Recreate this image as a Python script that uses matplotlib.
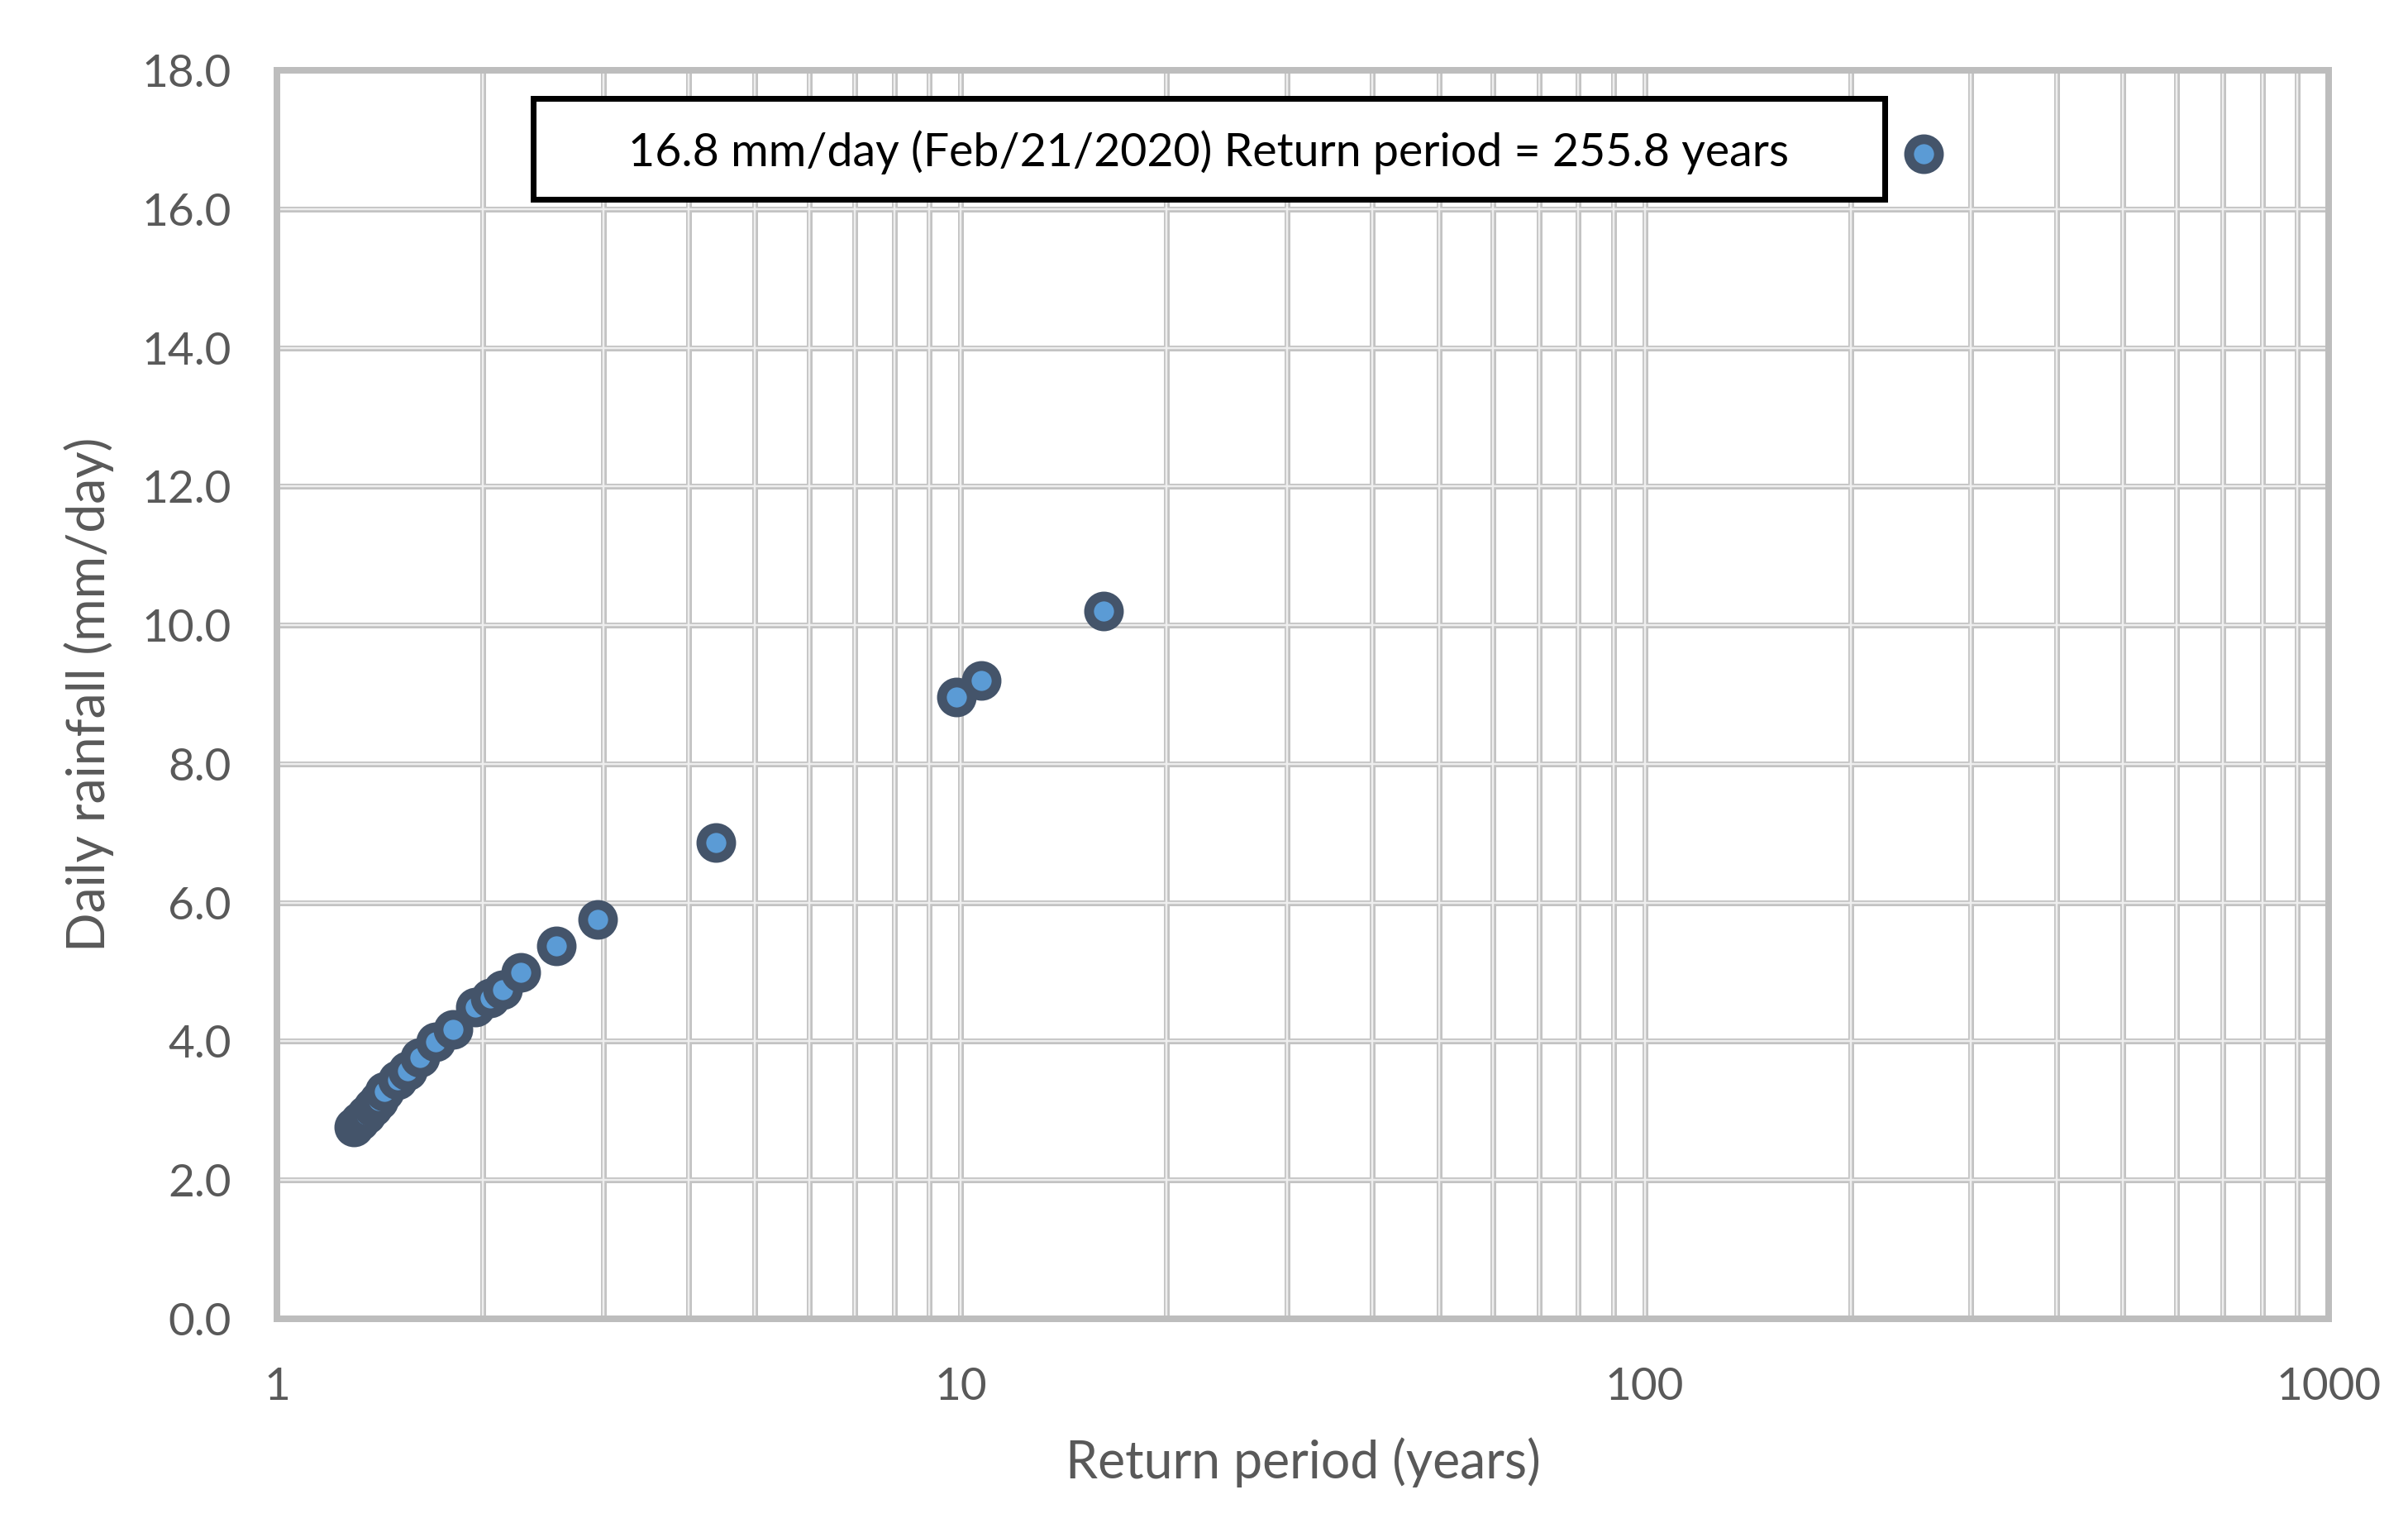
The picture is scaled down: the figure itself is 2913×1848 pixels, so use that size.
import matplotlib
matplotlib.use("Agg")
import matplotlib.pyplot as plt
from matplotlib.patches import Rectangle
from matplotlib.ticker import FixedLocator, NullFormatter, FixedFormatter

# ---- data ----
return_period = [1.297, 1.32, 1.35, 1.38, 1.41, 1.436, 1.50, 1.554, 1.62, 1.705,
                 1.811, 1.95, 2.053, 2.14, 2.273, 2.565, 2.947, 4.38, 9.86, 10.70,
                 16.17, 255.8]
rainfall = [2.76, 2.85, 2.95, 3.05, 3.15, 3.28, 3.44, 3.58, 3.77, 3.99,
            4.17, 4.49, 4.63, 4.75, 4.99, 5.38, 5.76, 6.87, 8.96, 9.20,
            10.20, 16.8]
y_ticks = [0, 2, 4, 6, 8, 10, 12, 14, 16, 18]
y_ticklabels = ["0.0", "2.0", "4.0", "6.0", "8.0", "10.0", "12.0", "14.0", "16.0", "18.0"]
x_major = [1, 10, 100, 1000]
x_major_labels = ["1", "10", "100", "1000"]
x_minor = [2, 3, 4, 5, 6, 7, 8, 9, 20, 30, 40, 50, 60, 70, 80, 90,
           200, 300, 400, 500, 600, 700, 800, 900]
annotation = "16.8 mm/day (Feb/21/2020) Return period = 255.8 years"
xlabel = "Return period (years)"
ylabel = "Daily rainfall (mm/day)"

W, H, DPI = 2913, 1848, 100
plt.rcParams['font.family'] = ['Lato', 'DejaVu Sans']

fig = plt.figure(figsize=(W / DPI, H / DPI), dpi=DPI)
fig.patch.set_facecolor("white")
ax = fig.add_axes([335 / W, 1 - 1595 / H, (2817 - 335) / W, (1595 - 85) / H])
ax.set_xscale("log")
ax.set_xlim(1, 1000)
ax.set_ylim(0, 18)

grid_dark = "#C3C3C3"
grid_light = "#EEEEEE"
px = 72 / DPI  # points per pixel

for v in x_major + x_minor:
    ax.axvline(v, color=grid_dark, lw=7 * px, zorder=1)
    ax.axvline(v, color=grid_light, lw=2.5 * px, zorder=1.1)
for v in y_ticks:
    ax.axhline(v, color=grid_dark, lw=7 * px, zorder=1)
    ax.axhline(v, color=grid_light, lw=2.5 * px, zorder=1.1)

for s in ax.spines.values():
    s.set_color("#BDBDBD")
    s.set_linewidth(8 * px)
    s.set_zorder(1.2)

ax.xaxis.set_major_locator(FixedLocator(x_major))
ax.xaxis.set_major_formatter(FixedFormatter(x_major_labels))
ax.xaxis.set_minor_locator(FixedLocator(x_minor))
ax.xaxis.set_minor_formatter(NullFormatter())
ax.set_yticks(y_ticks)
ax.set_yticklabels(y_ticklabels)
ax.tick_params(axis="both", which="both", length=0, labelsize=39.5, labelcolor="#595959")
ax.tick_params(axis="x", pad=42)
ax.tick_params(axis="y", pad=40)

ax.plot(return_period, rainfall, linestyle="none", marker="o",
        markersize=26, markeredgewidth=8.5, markerfacecolor="#5B9BD5",
        markeredgecolor="#44546A", zorder=3, clip_on=False)

ax.set_xlabel(xlabel, fontsize=45, color="#595959", labelpad=26)
ax.set_ylabel(ylabel, fontsize=45, color="#595959", labelpad=24)

# annotation box (figure pixel placement)
bx0, by0, bx1, by1 = 645, 119, 2280, 241
rect = Rectangle((bx0 / W, 1 - by1 / H), (bx1 - bx0) / W, (by1 - by0) / H,
                 transform=fig.transFigure, facecolor="white", edgecolor="black",
                 linewidth=7 * px, zorder=5)
fig.patches.append(rect)
fig.text((bx0 + bx1) / 2 / W, 1 - 184 / H, annotation, ha="center", va="center",
         fontsize=40, color="black", zorder=6)

fig.savefig("out.png", dpi=DPI, facecolor="white")
